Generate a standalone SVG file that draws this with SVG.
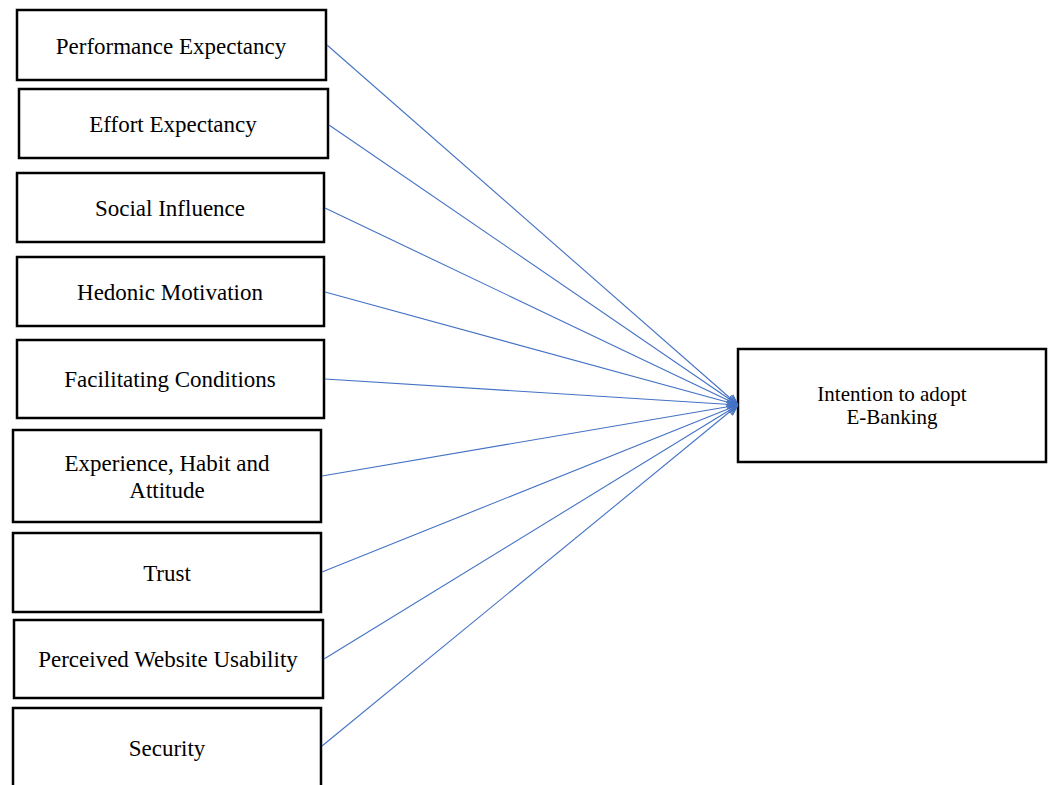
<svg xmlns="http://www.w3.org/2000/svg" width="1051" height="785" viewBox="0 0 1051 785">
<style>
.box{fill:#fff;stroke:#000;stroke-width:2.5}
.lbl{font-family:"Liberation Serif","Times New Roman",serif;font-size:23px;fill:#000;text-anchor:middle}
.tl{font-size:21px}
.con{stroke:#4472C4;stroke-width:1.1;fill:none;marker-end:url(#ah)}
</style>
<defs>
<marker id="ah" viewBox="0 0 10 10" refX="10" refY="5" markerWidth="11" markerHeight="11" markerUnits="userSpaceOnUse" orient="auto">
<path d="M0,1 L10,5 L0,9" fill="none" stroke="#4472C4" stroke-width="1.2"/>
</marker>
</defs>
<rect width="1051" height="785" fill="#fff"/>
<g id="n1"><rect class="box" x="17" y="10" width="309" height="70"/><text class="lbl" x="171" y="54">Performance Expectancy</text></g>
<g id="n2"><rect class="box" x="19" y="89" width="309" height="69"/><text class="lbl" x="173" y="132">Effort Expectancy</text></g>
<g id="n3"><rect class="box" x="17" y="173" width="307" height="69"/><text class="lbl" x="170" y="216">Social Influence</text></g>
<g id="n4"><rect class="box" x="17" y="257" width="307" height="69"/><text class="lbl" x="170" y="300">Hedonic Motivation</text></g>
<g id="n5"><rect class="box" x="17" y="340" width="307" height="78"/><text class="lbl" x="170" y="387">Facilitating Conditions</text></g>
<g id="n6"><rect class="box" x="13" y="430" width="308" height="92"/><text class="lbl" x="167" y="471">Experience, Habit and</text><text class="lbl" x="167" y="498">Attitude</text></g>
<g id="n7"><rect class="box" x="13" y="533" width="308" height="79"/><text class="lbl" x="167" y="581">Trust</text></g>
<g id="n8"><rect class="box" x="14" y="620" width="309" height="78"/><text class="lbl" x="168" y="667">Perceived Website Usability</text></g>
<g id="n9"><rect class="box" x="13" y="708" width="308" height="90"/><text class="lbl" x="167" y="756">Security</text></g>
<g id="target"><rect class="box" x="738" y="349" width="308" height="113"/><text class="lbl tl" x="892" y="401">Intention to adopt</text><text class="lbl tl" x="892" y="424">E-Banking</text></g>
<g id="connectors">
<line class="con" x1="327" y1="45" x2="738" y2="405"/>
<line class="con" x1="329" y1="125" x2="738" y2="405"/>
<line class="con" x1="325" y1="208" x2="738" y2="405"/>
<line class="con" x1="325" y1="292" x2="738" y2="405"/>
<line class="con" x1="325" y1="379" x2="738" y2="405"/>
<line class="con" x1="322" y1="476" x2="738" y2="405"/>
<line class="con" x1="322" y1="572" x2="738" y2="405"/>
<line class="con" x1="324" y1="659" x2="738" y2="405"/>
<line class="con" x1="322" y1="746" x2="738" y2="405"/>
</g>
</svg>
